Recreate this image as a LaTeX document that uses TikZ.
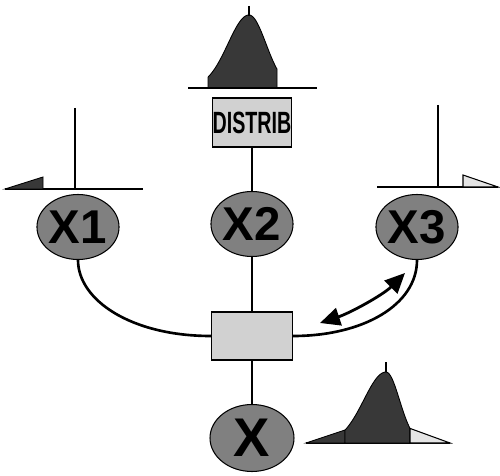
\documentclass[tikz,border=0pt]{standalone}
\usepackage{fontspec}
\usepackage{graphicx}
\setmainfont{Liberation Sans}
\usetikzlibrary{arrows.meta,shapes.geometric}
\begin{document}
\begin{tikzpicture}[x=0.02cm,y=-0.02cm,
  wire/.style={line width=1.5pt,black},
  axisline/.style={line width=1.3pt,black},
  varnode/.style={ellipse,draw=black,line width=0.6pt,fill=black!50,
    minimum width=1.58cm,minimum height=1.3cm,inner sep=0pt,
    font=\bfseries\fontsize{27}{27}\selectfont},
  boxnode/.style={rectangle,draw=black,line width=0.6pt,fill=black!18,inner sep=0pt},
  densfill/.style={fill=black!78,draw=black,line width=0.5pt},
  lightfill/.style={fill=black!10,draw=black,line width=0.6pt},
  bigtip/.tip={Triangle[length=4mm,width=3.6mm]}]
\useasboundingbox (0,0) rectangle (500,476);

% prior density above the DISTRIB box
\filldraw[densfill] (208,88)
  -- plot[domain=208:249,samples=30] (\x,{88-73*exp(-1*(\x-249)*(\x-249)/882)})
  -- plot[domain=249:277,samples=25] (\x,{88-73*exp(-1*(\x-249)*(\x-249)/578)})
  -- (277,88) -- cycle;
\draw[line width=1.2pt] (249,6) -- (249,16);
\draw[axisline] (188,88) -- (317,88);

% left marker over X1
\draw[axisline] (75,108) -- (75,189);
\draw[axisline] (5,189) -- (143,189);
\filldraw[densfill] (5,189) -- (43,177) -- (43,189) -- cycle;

% right marker over X3
\draw[axisline] (438,105) -- (438,187);
\draw[axisline] (377,187) -- (498,187);
\filldraw[lightfill] (463,175) -- (498,187) -- (463,187) -- cycle;

% nodes
\node[boxnode,minimum width=1.58cm,minimum height=0.98cm] (distrib) at (252,122.5)
  {\scalebox{0.64}[1]{\bfseries\fontsize{17.5}{17.5}\selectfont DISTRIB}};
\node[varnode] (x1) at (78,227) {X1};
\node[varnode] (x2) at (252,224) {X2};
\node[varnode] (x3) at (417,227) {X3};
\node[boxnode,minimum width=1.62cm,minimum height=0.96cm] (comb) at (252,336) {};
\node[varnode,minimum width=1.68cm,minimum height=1.34cm,
  font=\bfseries\fontsize{31}{31}\selectfont] (x) at (252,438) {X};

% connectors
\draw[wire] (distrib.south) -- (x2.north);
\draw[wire] (x2.south) -- (comb.north);
\draw[wire] (comb.south) -- (x.north);
\draw[wire] (x1.south) .. controls +(0,40) and +(-80,0) .. (comb.west);
\draw[wire] (x3.south) .. controls +(0,45) and +(70,0) .. (comb.east);

% two-way arrow beside the X3 link
\coordinate (arrA) at (320,323);
\coordinate (arrB) at (405,273);
\draw[line width=1.6pt,bigtip-bigtip] (arrA) .. controls +(30,-10) and +(-22,22) .. (arrB);

% output density next to X
\draw[axisline] (306,443) -- (450,443);
\filldraw[densfill] (306,443) -- (345,430) -- (345,443) -- cycle;
\filldraw[densfill] (345,443)
  -- plot[domain=345:386,samples=30] (\x,{443-71*exp(-1*(\x-386)*(\x-386)/985)})
  -- plot[domain=386:410,samples=20] (\x,{443-71*exp(-1*(\x-386)*(\x-386)/365)})
  -- (410,443) -- cycle;
\filldraw[lightfill] (410,428.4) -- (450,443) -- (410,443) -- cycle;
\draw[line width=1.2pt] (386,362) -- (386,372);
\end{tikzpicture}
\end{document}
